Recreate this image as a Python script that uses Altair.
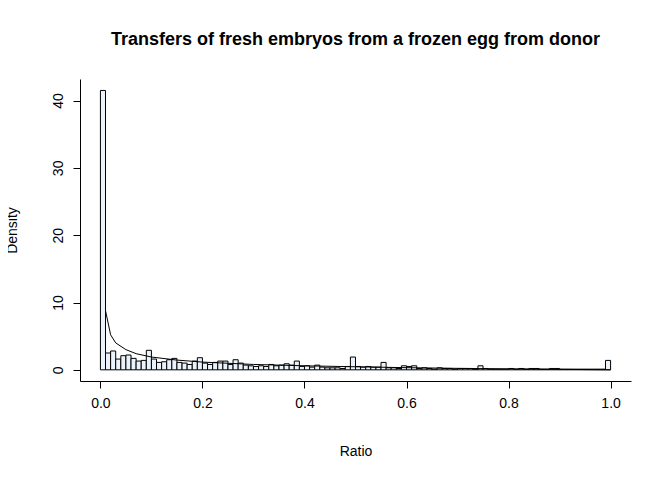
import altair as alt
import pandas as pd

# Histogram of ratios, 100 bins of width 0.01 (density scale)
bin_starts = [i / 100 for i in range(100)]
densities = [
    41.5, 2.5, 2.8, 1.6, 2.1, 2.2, 1.7, 1.3, 1.4, 2.9,
    1.6, 1.1, 1.2, 1.5, 1.7, 1.1, 1.0, 0.8, 1.3, 1.8,
    1.0, 0.8, 1.1, 1.3, 1.3, 0.8, 1.5, 1.0, 0.7, 0.6,
    0.5, 0.6, 0.5, 0.8, 0.6, 0.7, 0.9, 0.7, 1.3, 0.5,
    0.6, 0.4, 0.7, 0.4, 0.3, 0.3, 0.3, 0.2, 0.5, 1.9,
    0.5, 0.4, 0.5, 0.4, 0.4, 1.1, 0.3, 0.3, 0.2, 0.6,
    0.5, 0.6, 0.2, 0.3, 0.2, 0.1, 0.3, 0.2, 0.2, 0.1,
    0.2, 0.2, 0.2, 0.1, 0.6, 0.2, 0.1, 0.1, 0.1, 0.1,
    0.2, 0.1, 0.2, 0.1, 0.2, 0.2, 0.1, 0.1, 0.2, 0.2,
    0.1, 0.1, 0.1, 0.1, 0.1, 0.1, 0.1, 0.1, 0.1, 1.4,
]

# Fitted density curve
curve_x = [0.01, 0.02, 0.03, 0.05, 0.07, 0.1, 0.15, 0.2, 0.3, 0.4, 0.5, 0.6, 0.7, 0.8, 0.9, 1.0]
curve_y = [8.8, 5.2, 4.0, 3.0, 2.4, 1.9, 1.45, 1.15, 0.8, 0.6, 0.45, 0.32, 0.22, 0.14, 0.07, 0.0]

hist = pd.DataFrame({'start': bin_starts, 'end': [s + 0.01 for s in bin_starts], 'density': densities})
curve = pd.DataFrame({'x': curve_x, 'y': curve_y})

font = 'Liberation Sans'
xscale = alt.Scale(domain=[-0.04, 1.04], nice=False, zero=False)
yscale = alt.Scale(domain=[-1.66, 43.2], nice=False, zero=False)

bars = alt.Chart(hist).mark_rect(fill='#eaf2fb', stroke='black', strokeWidth=1).encode(
    x=alt.X('start:Q', scale=xscale, title='Ratio',
            axis=alt.Axis(values=[0, 0.2, 0.4, 0.6, 0.8, 1.0], format='.1f', grid=False,
                          domainColor='black', tickColor='black', tickSize=7,
                          labelFontSize=14, titleFontSize=14, labelColor='black',
                          titleColor='black', titleFontWeight='normal', titlePadding=34,
                          labelPadding=8, labelFont=font, titleFont=font)),
    x2='end:Q',
    y=alt.Y('density:Q', scale=yscale, title='Density',
            axis=alt.Axis(values=[0, 10, 20, 30, 40], grid=False, labelAngle=-90,
                          labelAlign='center', labelBaseline='bottom',
                          domainColor='black', tickColor='black', tickSize=7,
                          labelFontSize=14, titleFontSize=14, labelColor='black',
                          titleColor='black', titleFontWeight='normal', titlePadding=32,
                          labelPadding=8, labelFont=font, titleFont=font)),
    y2=alt.datum(0),
)

line = alt.Chart(curve).mark_line(color='black', strokeWidth=1).encode(
    x=alt.X('x:Q', scale=xscale),
    y=alt.Y('y:Q', scale=yscale),
)

chart = (bars + line).properties(
    width=551, height=302,
    title=alt.TitleParams('Transfers of fresh embryos from a frozen egg from donor',
                          font=font, fontSize=18, fontWeight='bold', color='black',
                          anchor='middle', offset=30),
    autosize=alt.AutoSizeParams(type='none'),
    padding={'left': 72, 'top': 71, 'right': 33, 'bottom': 90},
).configure_view(stroke=None)

chart.save("out.html", embed_options={"renderer": "svg", "actions": False})
